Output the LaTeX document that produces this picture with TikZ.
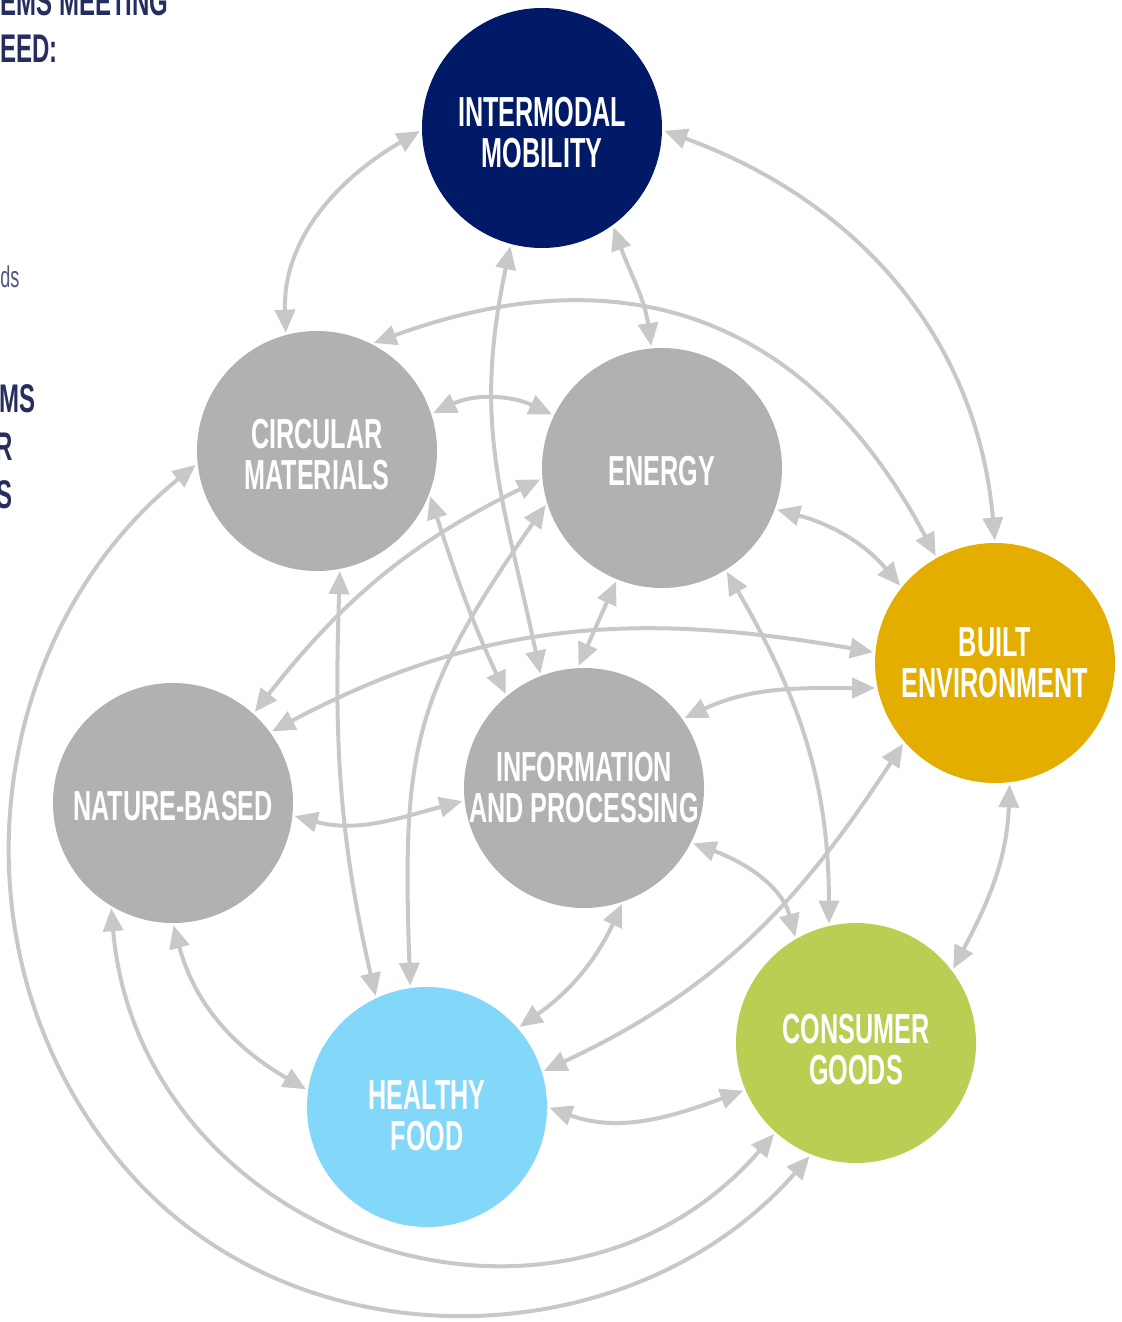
\documentclass[tikz,border=0pt]{standalone}
\usepackage{fontspec}
\setmainfont{Liberation Sans}
\newfontfamily\hubfont[FakeStretch=0.6]{Liberation Sans}
\usetikzlibrary{arrows.meta}

\definecolor{navyhub}{RGB}{0,26,104}
\definecolor{grayhub}{RGB}{177,177,177}
\definecolor{goldhub}{RGB}{227,174,0}
\definecolor{skyhub}{RGB}{131,215,248}
\definecolor{limehub}{RGB}{184,207,84}
\definecolor{linkgray}{RGB}{200,200,198}
\definecolor{inkblue}{RGB}{38,45,95}

% raises the first line so the text sits a little low in its circle
\newcommand\hubdrop[1]{\rule{0pt}{#1}}

\begin{document}
\begin{tikzpicture}[x=0.5pt,y=0.5pt,
	hub/.style={circle,minimum size=120pt,inner sep=0pt,text=white,align=center,
		font=\hubfont\bfseries\fontsize{21}{20.5}\selectfont},
	link/.style={draw,color=linkgray,line width=2pt,
		{Triangle[length=11.5pt,width=10pt]}-{Triangle[length=11.5pt,width=10pt]},
		shorten <=1pt,shorten >=1pt},
	every edge/.style={link},
	cut/.style={inner sep=0pt,anchor=base west,text=inkblue,
		font=\hubfont\bfseries\fontsize{20}{20}\selectfont}]
	\useasboundingbox (0,0) rectangle (1121,-1322);

	% text cut off at the left edge
	\node[cut] (topline) at (0,-16) {EMS MEETING};
	\node[cut] (needline) at (0,-63) {EED:};
	\node[cut,font=\hubfont\fontsize{15}{15}\selectfont,text=inkblue!80] (smallline) at (0,-287) {ds};
	\node[cut] (sysline) at (-1,-412) {MS};
	\node[cut] (forline) at (-5,-460) {R};
	\node[cut] (endline) at (-4,-508) {S};

	% the eight systems
	\node[hub,fill=navyhub] (mob) at (542,-128) {\hubdrop{19pt}INTERMODAL\\MOBILITY};
	\node[hub,fill=grayhub] (circ) at (317,-451) {\hubdrop{18pt}CIRCULAR\\MATERIALS};
	\node[hub,fill=grayhub] (energy) at (662,-468) {\hubdrop{18pt}ENERGY};
	\node[hub,fill=goldhub] (built) at (995,-663) {BUILT\\ENVIRONMENT};
	\node[hub,fill=grayhub] (nature) at (173,-803) {\hubdrop{18pt}NATURE-BASED};
	\node[hub,fill=grayhub] (info) at (584,-788) {INFORMATION\\AND PROCESSING};
	\node[hub,fill=skyhub] (food) at (427,-1107) {\hubdrop{23pt}HEALTHY\\FOOD};
	\node[hub,fill=limehub] (goods) at (856,-1043) {\hubdrop{21pt}CONSUMER\\GOODS};
	\coordinate (outerbend) at (127,-1170);

	\path
	(mob.181) edge[out=210,in=92] (circ.105)
	(mob.359) edge[out=340,in=95] (built.90)
	(mob.306) edge[out=290,in=98] (energy.95)
	(mob.255) edge[out=258,in=102,looseness=1.1] (info.111)
	(circ.63) edge[out=20,in=118,looseness=1.15] (built.119)
	(circ.18) edge[out=25,in=155] (energy.154)
	(circ.339) edge[out=288,in=115] (info.130)
	(circ.281) edge[out=268,in=103] (food.115)
	(energy.185) edge[out=206,in=52] (nature.48)
	(energy.197) edge[out=235,in=92,looseness=1.2] (food.98)
	(energy.340) edge[out=-15,in=130] (built.141)
	(energy.248) edge (info.93)
	(energy.302) edge[out=-60,in=90] (goods.103)
	(nature.36) edge[out=28,in=170] (built.175)
	(nature.354) edge[out=-15,in=195] (info.186)
	(nature.270) edge[out=285,in=150] (food.172)
	(nature.239) edge[out=275,in=229,looseness=1.22] (goods.228)
	(info.35) edge[out=25,in=180] (built.192)
	(info.289) edge[out=245,in=35] (food.41)
	(info.333) edge[out=-20,in=105] (goods.120)
	(built.221) edge[out=237,in=25] (food.17)
	(built.277) edge[out=268,in=62] (goods.37)
	(food.0) edge[out=-20,in=200] (goods.203);
	\draw[link] (circ.186) to[out=219,in=131] (outerbend) to[out=311,in=229] (goods.248);
\end{tikzpicture}
\end{document}
